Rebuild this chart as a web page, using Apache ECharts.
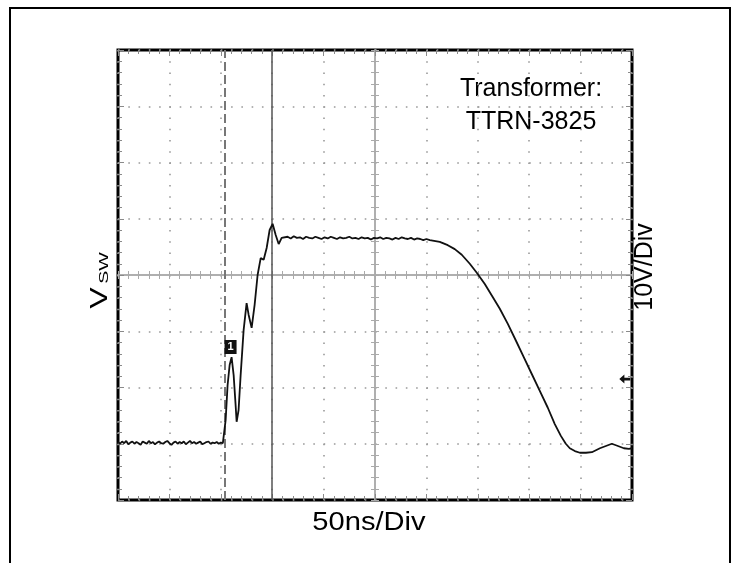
<!DOCTYPE html>
<html>
<head>
<meta charset="utf-8">
<script src="https://cdn.jsdelivr.net/npm/echarts@6/dist/echarts.min.js"></script>
<style>
html,body{margin:0;padding:0;background:#fff;}
#chart{width:740px;height:563px;}
</style>
</head>
<body>
<div id="chart"></div>
<script>
// Time (ns) and switch-node voltage (V, relative to screen centre); 50 ns/div, 10 V/div
const timeNs = [
  0,2,4,6,8,10,12,14,16,18,20,22,24,26,28,30,32,34,36,38,40,42,44,46,48,50,52,54,56,58,
  60,62,64,66,68,70,72,74,76,78,80,82,84,86,88,90,92,94,96,98,100,102,
  103.2,104.7,106.6,108.6,110.5,112.5,114.4,115.4,117.3,119.3,122.2,125.1,127.1,130.0,132.9,135.8,138.8,141.7,144.6,147.5,150.4,153.4,156.3,159.2,
  165,168,171,174,177,180,183,186,189,192,195,198,201,204,207,210,213,216,219,222,
  225,228,231,234,237,240,243,246,249,252,255,258,261,264,267,270,273,276,279,282,285,288,291,294,297,300,
  303.3,313.0,320.8,327.6,334.4,342.2,349.0,356.8,364.5,371.4,379.2,386.9,394.7,402.5,410.3,418.1,424.9,430.8,435.6,439.5,
  444.4,449.3,455.2,461.0,468.8,474.6,480.4,486.3,492.1,497.0,500
];
const vswVolts = [
  -29.7,-30.0,-29.6,-29.9,-29.5,-30.1,-29.8,-29.6,-30.0,-29.7,-29.9,-30.2,-29.6,-29.8,-30.0,-29.5,-29.9,-29.7,-30.1,-29.8,
  -29.6,-29.9,-30.0,-29.7,-29.5,-29.9,-30.2,-29.8,-29.6,-30.0,-29.7,-29.9,-29.6,-30.1,-29.8,-29.5,-29.9,-29.7,-30.0,-29.8,
  -29.6,-30.1,-29.9,-29.7,-29.6,-30.0,-29.8,-29.9,-29.7,-30.0,-29.8,-29.9,
  -29.8,-25.8,-19.6,-16.0,-14.6,-17.8,-23.1,-26.1,-24.0,-17.8,-9.8,-5.0,-7.1,-9.4,-5.3,0.0,3.0,2.7,4.8,8.0,9.1,7.1,5.5,6.6,
  6.8,6.5,6.9,6.6,6.7,6.4,6.8,6.6,6.5,6.8,6.6,6.4,6.7,6.5,6.8,6.6,6.4,6.7,6.5,6.6,
  6.8,6.5,6.6,6.4,6.7,6.5,6.6,6.3,6.6,6.5,6.7,6.4,6.6,6.5,6.3,6.6,6.4,6.7,6.5,6.4,6.6,6.3,6.5,6.4,6.2,6.4,
  6.2,5.9,5.3,4.6,3.6,2.0,0.4,-1.6,-3.9,-6.0,-8.7,-11.6,-14.6,-17.6,-20.6,-23.6,-26.5,-28.6,-30.0,-30.8,
  -31.3,-31.6,-31.6,-31.5,-30.8,-30.4,-30.0,-30.4,-30.8,-30.9,-30.8
];
// Cursor positions (ns)
const cursorDashedNs = 103.7;
const cursorSolidNs = 150;
// Channel-1 marker and trigger-level marker positions [ns, V]
const channelMarker = [109.5, -12.8];
const triggerMarker = [493.0, -18.5];

const traceData = timeNs.map((t, i) => [t, vswVolts[i]]);

const tickColor = '#8a8a8a';
const centreColor = '#aaa';
function baseAxis(extra, isX) {
  return Object.assign({
    type: 'value',
    min: isX ? 0 : -40, max: isX ? 500 : 40, interval: isX ? 50 : 10,
    axisLabel: { show: false },
    axisLine: { show: false, onZero: false },
    splitLine: { show: false },
    axisTick: { show: true, inside: true, length: 6, lineStyle: { color: tickColor, width: 1 } },
    minorTick: { show: true, splitNumber: 5, length: 4, lineStyle: { color: tickColor, width: 1 } }
  }, extra);
}
const centreTicks = {
  axisTick: { show: true, inside: true, length: 4, lineStyle: { color: centreColor, width: 1 } },
  minorTick: { show: true, splitNumber: 5, length: 4, lineStyle: { color: centreColor, width: 1 } }
};
const centreLineX = { show: true, onZero: true, onZeroAxisIndex: 0, lineStyle: { color: centreColor, width: 1.5 } };
const centreLineY = { show: true, onZero: false, lineStyle: { color: centreColor, width: 1.5 } };

const chart = echarts.init(document.getElementById('chart'), null, { renderer: 'canvas' });
chart.setOption({
  animation: false,
  backgroundColor: '#fff',
  grid: { left: 118, right: 108, top: 50, bottom: 63, show: true, borderColor: '#000', borderWidth: 3, backgroundColor: 'transparent' },
  xAxis: [
    baseAxis({ position: 'bottom', splitLine: { show: true, lineStyle: { type: [1.6, 9.65], color: '#9a9a9a', width: 1.6 } } }, true),
    baseAxis({ position: 'top' }, true),
    baseAxis(Object.assign({ position: 'bottom', axisLine: centreLineX }, centreTicks), true),
    baseAxis(Object.assign({ position: 'top', axisLine: centreLineX }, centreTicks), true)
  ],
  yAxis: [
    baseAxis({ position: 'left', splitLine: { show: true, lineStyle: { type: [1.6, 8.68], color: '#9a9a9a', width: 1.6 } } }, false),
    baseAxis({ position: 'right' }, false),
    baseAxis(Object.assign({ position: 'left', offset: -257, axisLine: centreLineY }, centreTicks), false),
    baseAxis(Object.assign({ position: 'right', offset: -257, axisLine: centreLineY }, centreTicks), false)
  ],
  series: [{
    type: 'line',
    xAxisIndex: 0, yAxisIndex: 0,
    data: traceData,
    showSymbol: false,
    symbol: 'none',
    lineStyle: { color: '#111', width: 1.8 },
    z: 5,
    markLine: {
      silent: true, symbol: 'none', label: { show: false },
      data: [
        { xAxis: cursorDashedNs, lineStyle: { type: [9, 4], color: '#777', width: 2 } },
        { xAxis: cursorSolidNs, lineStyle: { type: 'solid', color: '#555', width: 1.5 } }
      ]
    },
    markPoint: {
      silent: true,
      data: [
        { coord: channelMarker, symbol: 'rect', symbolSize: [12, 14], itemStyle: { color: '#111' },
          label: { show: true, position: 'inside', formatter: '1', color: '#fff', fontSize: 11, fontWeight: 'bold', fontFamily: 'Liberation Sans' } },
        { coord: triggerMarker, symbol: 'path://M0,5 L6,0 L6,3.5 L13,3.5 L13,6.5 L6,6.5 L6,10 Z', symbolSize: [11, 9],
          itemStyle: { color: '#111' }, label: { show: false } }
      ]
    }
  }],
  graphic: [
    { type: 'rect', silent: true, shape: { x: 10, y: 8, width: 720, height: 620 }, style: { fill: 'none', stroke: '#000', lineWidth: 2 } },
    { type: 'text', x: 531, y: 89, style: { text: 'Transformer:', fontSize: 25, fontFamily: '"Liberation Sans", Arial, sans-serif', fill: '#000', align: 'center', verticalAlign: 'middle' } },
    { type: 'text', x: 531, y: 122, style: { text: 'TTRN-3825', fontSize: 25, fontFamily: '"Liberation Sans", Arial, sans-serif', fill: '#000', align: 'center', verticalAlign: 'middle' } },
    { type: 'text', x: 369, y: 523, scaleX: 1.12, style: { text: '50ns/Div', fontSize: 26, fontFamily: '"Liberation Sans", Arial, sans-serif', fill: '#000', align: 'center', verticalAlign: 'middle' } },
    { type: 'text', x: 645, y: 267, rotation: Math.PI / 2, style: { text: '10V/Div', fontSize: 25, fontFamily: '"Liberation Sans", Arial, sans-serif', fill: '#000', align: 'center', verticalAlign: 'middle' } },
    { type: 'text', x: 101, y: 298, rotation: Math.PI / 2, scaleX: 1.4, style: { text: 'V', fontSize: 23, fontFamily: '"Liberation Sans", Arial, sans-serif', fill: '#000', align: 'center', verticalAlign: 'middle' } },
    { type: 'text', x: 104.5, y: 268, rotation: Math.PI / 2, scaleX: 1.45, style: { text: 'SW', fontSize: 13.5, fontFamily: '"Liberation Sans", Arial, sans-serif', fill: '#000', align: 'center', verticalAlign: 'middle' } }
  ]
});
</script>
</body>
</html>
